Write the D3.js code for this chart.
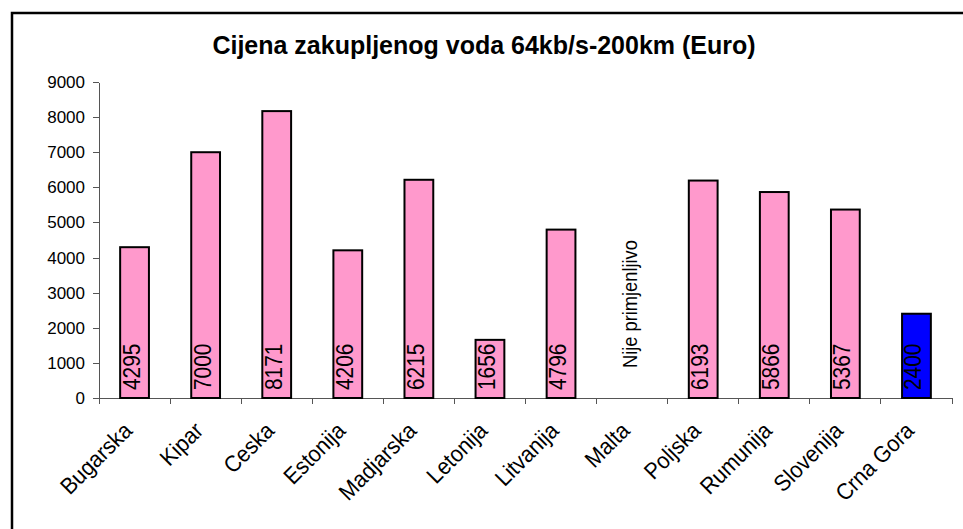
<!DOCTYPE html>
<html>
<head>
	<title>Cijena zakupljenog voda</title>
	<style type="text/css">
		body {
			margin: 0;
			background: #fff;
			font-family: "Liberation Sans", Arial, sans-serif;
		}
		.bar {
			stroke: #000;
			stroke-width: 2;
		}
		.axis path, .axis line {
			stroke: #555;
			shape-rendering: crispEdges;
		}
		.axis text {
			font-family: "Liberation Sans", Arial, sans-serif;
			font-size: 17px;
			fill: #000;
		}
		.axis text.cat {
			font-size: 23px;
		}
	</style>
</head>
<body>
	<div id="chart"></div>
	<script src="https://d3js.org/d3.v7.min.js"></script>
	<script type="text/javascript">
		// data
		var countries = ["Bugarska", "Kipar", "Ceska", "Estonija", "Madjarska", "Letonija",
			"Litvanija", "Malta", "Poljska", "Rumunija", "Slovenija", "Crna Gora"];
		var prices = [4295, 7000, 8171, 4206, 6215, 1656, 4796, null, 6193, 5866, 5367, 2400];
		var yTicks = [0, 1000, 2000, 3000, 4000, 5000, 6000, 7000, 8000, 9000];
		var highlight = "Crna Gora";
		var naText = "Nije primjenljivo";

		var width = 963,
			height = 529;

		var svg = d3.select('#chart')
			.append('svg')
			.attr('width', width)
			.attr('height', height);

		// outer frame (runs off the right and bottom edges)
		svg.append('rect')
			.attr('x', 12)
			.attr('y', 13)
			.attr('width', 980)
			.attr('height', 540)
			.attr('fill', 'none')
			.attr('stroke', '#000')
			.attr('stroke-width', 2.5);

		svg.append('text')
			.attr('x', 484)
			.attr('y', 54)
			.attr('text-anchor', 'middle')
			.attr('font-weight', 'bold')
			.attr('font-size', '25px')
			.text('Cijena zakupljenog voda 64kb/s-200km (Euro)');

		var x = d3.scaleBand().domain(countries).range([99, 952]),
			y = d3.scaleLinear().domain([0, 9000]).range([398, 82]),
			barW = x.bandwidth() * 0.405;

		// y axis
		svg.append('g')
			.attr('class', 'axis')
			.attr('transform', 'translate(99,0)')
			.call(d3.axisLeft(y).tickValues(yTicks).tickFormat(d3.format('d'))
				.tickSize(6).tickSizeOuter(0).tickPadding(8));

		// x axis: line plus ticks on the category boundaries
		var xAxis = svg.append('g').attr('class', 'axis');
		xAxis.append('line')
			.attr('x1', 99).attr('x2', 952)
			.attr('y1', y(0)).attr('y2', y(0));
		xAxis.selectAll('.tick')
			.data(countries.concat(['end']))
			.enter()
			.append('line')
			.attr('x1', function(d) { return d === 'end' ? 952 : x(d); })
			.attr('x2', function(d) { return d === 'end' ? 952 : x(d); })
			.attr('y1', y(0))
			.attr('y2', y(0) + 6);

		// the original text is a bit narrower than Liberation Sans, hence the scale
		xAxis.selectAll('.cat')
			.data(countries)
			.enter()
			.append('text')
			.attr('class', 'cat')
			.attr('text-anchor', 'end')
			.attr('transform', function(d) {
				return 'translate(' + (x(d) + x.bandwidth() / 2 - 1) + ',' + (y(0) + 34) + ') rotate(-45) scale(0.93,1)';
			})
			.text(function(d) { return d; });

		var data = countries.map(function(c, i) { return {name: c, value: prices[i]}; });

		svg.selectAll('.bar')
			.data(data.filter(function(d) { return d.value !== null; }))
			.enter()
			.append('rect')
			.attr('class', 'bar')
			.attr('x', function(d) { return x(d.name) + (x.bandwidth() - barW) / 2; })
			.attr('y', function(d) { return y(d.value); })
			.attr('width', barW)
			.attr('height', function(d) { return y(0) - y(d.value); })
			.attr('fill', function(d) { return d.name === highlight ? '#0000ff' : '#ff99cc'; });

		// values written up the bars
		svg.selectAll('.val')
			.data(data)
			.enter()
			.append('text')
			.attr('font-size', function(d) { return d.value === null ? '21px' : '24px'; })
			.attr('transform', function(d) {
				var cx = x(d.name) + x.bandwidth() / 2 + 5;
				var by = d.value === null ? 368 : y(0) - 8;
				return 'translate(' + cx + ',' + by + ') rotate(-90) scale(0.87,1)';
			})
			.text(function(d) { return d.value === null ? naText : d.value; });
	</script>
</body>
</html>
